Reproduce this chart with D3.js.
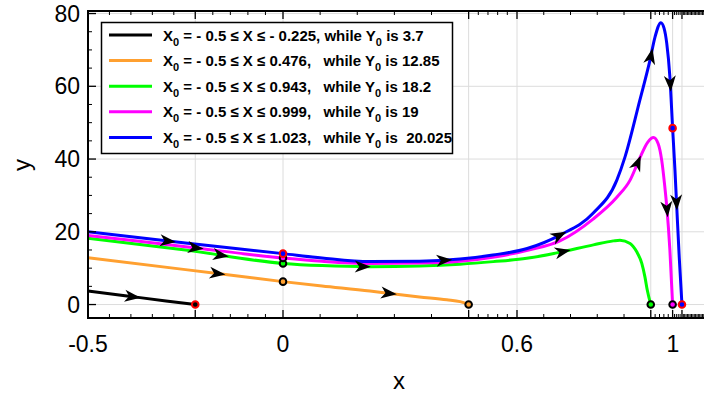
<!DOCTYPE html>
<html><head><meta charset="utf-8">
<script src="https://cdn.jsdelivr.net/npm/d3@7"></script>
<style>
html,body{margin:0;padding:0;background:#fff;}
svg{display:block;}
text{font-family:"Liberation Sans",Arial,Helvetica,sans-serif;}
</style></head>
<body><svg id="c" width="704" height="396"></svg>
<script>
// ---- data ----
const blackX = [-0.5, -0.4, -0.3, -0.225];
const blackY = [3.7, 2.35, 1.0, 0];
const orangeX = [-0.5, -0.25, 0, 0.1, 0.223, 0.269, 0.35, 0.42, 0.454, 0.476];
const orangeY = [12.85, 9.6, 6.3, 5.1, 3.7, 3.1, 2.1, 1.3, 0.8, 0];
const greenX = [-0.5, -0.25, 0, 0.1, 0.223, 0.35, 0.454, 0.539, 0.625, 0.702, 0.796, 0.847, 0.864, 0.89, 0.907, 0.92, 0.928, 0.934, 0.943];
const greenY = [18.2, 15.0, 11.3, 10.7, 10.4, 10.6, 11.1, 11.8, 12.7, 14.2, 16.4, 17.5, 17.7, 16.8, 14.5, 11.3, 7.6, 4.0, 0];
const magentaX = [-0.5, -0.25, 0, 0.1, 0.223, 0.35, 0.454, 0.55, 0.63, 0.71, 0.795, 0.856, 0.89, 0.915, 0.935, 0.95, 0.962, 0.971, 0.979, 0.984, 0.992, 0.999];
const magentaY = [19, 15.9, 12.8, 11.9, 11.3, 11.4, 11.9, 13.2, 15.0, 17.5, 23.5, 29.5, 34.2, 40.3, 44.6, 45.9, 44.2, 39.7, 32.4, 26.9, 15, 0];
const blueX = [-0.5, -0.25, 0, 0.1, 0.223, 0.35, 0.454, 0.538, 0.626, 0.71, 0.795, 0.856, 0.877, 0.915, 0.941, 0.954, 0.969, 0.977, 0.984, 0.992, 0.999, 1.005, 1.01, 1.016, 1.023];
const blueY = [20.025, 16.9, 14.0, 12.8, 11.8, 11.9, 12.5, 13.6, 15.4, 19.1, 25.1, 34.2, 40.6, 56.2, 67.2, 73.6, 77.5, 76.0, 71.8, 62.6, 48.5, 37, 26, 13, 0];

const seriesNames = ["black", "orange", "green", "magenta", "blue"];
const seriesColors = ["#000000", "#ffa030", "#00ff00", "#ff00ff", "#0000ff"];
const legendMain = [
  ["X", "0", " = - 0.5 \u2264 X \u2264 - 0.225, while Y", "0", " is 3.7"],
  ["X", "0", " = - 0.5 \u2264 X \u2264 0.476,   while Y", "0", " is 12.85"],
  ["X", "0", " = - 0.5 \u2264 X \u2264 0.943,   while Y", "0", " is 18.2"],
  ["X", "0", " = - 0.5 \u2264 X \u2264 0.999,   while Y", "0", " is 19"],
  ["X", "0", " = - 0.5 \u2264 X \u2264 1.023,   while Y", "0", " is  20.025"]
];

// markers (data coords)
const markerX = [-0.225, 0, 0.476, 0, 0.943, 0, 0.999, 0, 0.999, 1.023];
const markerY = [0, 6.3, 0, 11.3, 0, 12.8, 0, 14.0, 48.5, 0];
const markerFill = ["#000000", "#ffa030", "#ffa030", "#00ff00", "#00ff00", "#ff00ff", "#ff00ff", "#0000ff", "#0000ff", "#0000ff"];
const markerStroke = ["#ff0000", "#000000", "#000000", "#000000", "#000000", "#000000", "#000000", "#ff0000", "#ff0000", "#ff0000"];

// arrows: series index + approximate position (data coords)
const arrowSeries = [0, 1, 1, 4, 3, 2, 2, 4, 4, 2, 4, 3, 4, 3, 4];
const arrowX = [-0.388, -0.17, 0.269, -0.298, -0.226, -0.162, 0.202, 0.411, 0.706, 0.715, 0.945, 0.909, 0.992, 0.983, 1.008];
const arrowY = [2.2, 8.6, 3.1, 17.5, 16.1, 13.7, 10.6, 12.2, 18.8, 14.2, 68, 38.6, 61, 26.5, 28.3];

// ticks
const xMajor = [-0.5, -0.225, 0, 0.476, 0.6, 0.943, 0.999, 1.023];
const xLabelVals = [-0.5, 0, 0.6, 1];
const xLabelText = ["-0.5", "0", "0.6", "1"];
const yMajor = [0, 20, 40, 60, 80];
const yMinor = [3.7, 5, 10, 15, 25, 30, 35, 45, 50, 55, 65, 70, 75];

// ---- chart ----
const svg = d3.select("#c");
const L = 88, T = 11, B = 318, R = 712;
const x = d3.scaleLinear().domain([-0.5, 1.1]).range([L, R]);
const y = d3.scaleLinear().domain([-3.7, 80.7]).range([B, T]);

// grid
const g = svg.append("g");
g.selectAll(".vg").data(xMajor.slice(1)).join("line")
  .attr("x1", d => x(d)).attr("x2", d => x(d)).attr("y1", T).attr("y2", B)
  .attr("stroke", "#dcdcdc").attr("stroke-width", 1);
g.selectAll(".hg").data(yMajor).join("line")
  .attr("x1", L).attr("x2", 704).attr("y1", d => y(d)).attr("y2", d => y(d))
  .attr("stroke", "#dcdcdc").attr("stroke-width", 1);

// curves
const allX = [blackX, orangeX, greenX, magentaX, blueX];
const allY = [blackY, orangeY, greenY, magentaY, blueY];
const line = d3.line().x(d => x(d[0])).y(d => y(d[1])).curve(d3.curveMonotoneX);
const paths = [];
[0, 1, 2, 3, 4].forEach(i => {
  const pts = allX[i].map((v, k) => [v, allY[i][k]]);
  const p = svg.append("path").attr("d", line(pts)).attr("fill", "none")
    .attr("stroke", seriesColors[i]).attr("stroke-width", 3).attr("stroke-linejoin", "round");
  paths[i] = p.node();
});

// arrows
arrowSeries.forEach((s, k) => {
  const node = paths[s];
  const len = node.getTotalLength();
  const tx = x(arrowX[k]), ty = y(arrowY[k]);
  let best = 0, bd = Infinity;
  for (let l = 0; l <= len; l += 0.5) {
    const p = node.getPointAtLength(l);
    const d = (p.x - tx) ** 2 + (p.y - ty) ** 2;
    if (d < bd) { bd = d; best = l; }
  }
  const p = node.getPointAtLength(best);
  const a = node.getPointAtLength(Math.max(0, best - 3));
  const b = node.getPointAtLength(Math.min(len, best + 3));
  const ang = Math.atan2(b.y - a.y, b.x - a.x) * 180 / Math.PI;
  svg.append("path").attr("d", "M9,0 L-7,-6 L-2.5,0 L-7,6 Z")
    .attr("fill", "#000").attr("transform", `translate(${p.x},${p.y}) rotate(${ang})`);
});

// markers
svg.selectAll(".mk").data(markerX.map((v, k) => k)).join("circle")
  .attr("cx", k => x(markerX[k])).attr("cy", k => y(markerY[k])).attr("r", 3.3)
  .attr("fill", k => markerFill[k]).attr("stroke", k => markerStroke[k]).attr("stroke-width", 2);

// axes frame
const ax = svg.append("g").attr("stroke", "#000");
ax.append("line").attr("x1", L).attr("x2", 704).attr("y1", B).attr("y2", B).attr("stroke-width", 2);
ax.append("line").attr("x1", L).attr("x2", 704).attr("y1", T).attr("y2", T).attr("stroke-width", 2);
ax.append("line").attr("x1", L).attr("x2", L).attr("y1", T - 1).attr("y2", B + 1).attr("stroke-width", 2);

// x ticks: majors and minors (5 subdivisions between majors, dense after last)
const xMinor = [];
for (let i = 0; i < xMajor.length - 1; i++) {
  const a = xMajor[i], b = xMajor[i + 1];
  for (let j = 1; j < 5; j++) xMinor.push(a + (b - a) * j / 5);
}
for (let v = 1.023 + 0.0035; v < 1.1; v += 0.0035) xMinor.push(v);
[[B, -1], [T, 1]].forEach(([yy, dir]) => {
  ax.selectAll(null).data(xMajor).join("line")
    .attr("x1", d => x(d)).attr("x2", d => x(d)).attr("y1", yy).attr("y2", yy + dir * 8).attr("stroke-width", 1.3);
  ax.selectAll(null).data(xMinor).join("line")
    .attr("x1", d => x(d)).attr("x2", d => x(d)).attr("y1", yy).attr("y2", yy + dir * 4).attr("stroke-width", 1);
});
ax.selectAll(null).data(yMajor).join("line")
  .attr("x1", L).attr("x2", L + 8).attr("y1", d => y(d)).attr("y2", d => y(d)).attr("stroke-width", 1.3);
ax.selectAll(null).data(yMinor).join("line")
  .attr("x1", L).attr("x2", L + 4).attr("y1", d => y(d)).attr("y2", d => y(d)).attr("stroke-width", 1);

// tick labels
svg.selectAll(".xl").data(xLabelVals).join("text")
  .attr("x", d => x(d)).attr("y", 352).attr("text-anchor", "middle")
  .attr("font-size", 23).text((d, i) => xLabelText[i]);
svg.selectAll(".yl").data(yMajor).join("text")
  .attr("x", 80).attr("y", d => y(d) + 8).attr("text-anchor", "end")
  .attr("font-size", 23).text(d => d);
svg.append("text").attr("x", 399).attr("y", 389).attr("text-anchor", "middle").attr("font-size", 24).text("x");
svg.append("text").attr("transform", "translate(30,165) rotate(-90)").attr("text-anchor", "middle").attr("font-size", 24).text("y");

// legend
const lg = svg.append("g");
lg.append("rect").attr("x", 101.5).attr("y", 22.5).attr("width", 351).attr("height", 131)
  .attr("fill", "#fff").attr("stroke", "#000").attr("stroke-width", 1.5);
legendMain.forEach((parts, i) => {
  const cy = 35 + i * 25.6;
  lg.append("line").attr("x1", 109).attr("x2", 152).attr("y1", cy).attr("y2", cy)
    .attr("stroke", seriesColors[i]).attr("stroke-width", 3);
  const t = lg.append("text").attr("x", 163).attr("y", cy + 5.5)
    .attr("font-size", 15).attr("font-weight", "bold").style("white-space", "pre");
  t.append("tspan").text(parts[0]);
  t.append("tspan").attr("font-size", 11).attr("dy", 5).text(parts[1]);
  t.append("tspan").attr("dy", -5).text(parts[2]);
  t.append("tspan").attr("font-size", 11).attr("dy", 5).text(parts[3]);
  t.append("tspan").attr("dy", -5).text(parts[4]);
});
</script>
</body></html>
